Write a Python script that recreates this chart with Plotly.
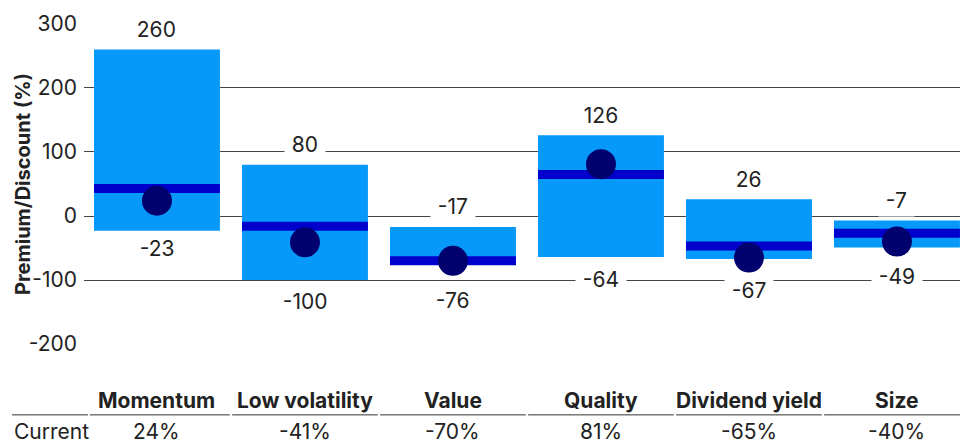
import plotly.graph_objects as go

# Factor valuation ranges: premium/discount (%) versus history
factors = ["Momentum", "Low volatility", "Value", "Quality", "Dividend yield", "Size"]
range_high = [260, 80, -17, 126, 26, -7]
range_low = [-23, -100, -76, -64, -67, -49]
median = [43, -16, -70, 65, -47, -27]
current = [24, -41, -70, 81, -65, -40]
current_labels = ["24%", "-41%", "-70%", "81%", "-65%", "-40%"]
y_ticks = [-200, -100, 0, 100, 200, 300]
y_tick_text = ["-200", "-100", "0", "100", "200", "300"]

# styling
BAR = "#0799F9"
MEDIAN = "#0000CC"
DOT = "#00006E"
TEXT = "#222222"
GRID = "#464646"
FONT = "Inter"
BAR_W = 0.851
low_label_shift = [18, 21, 36, 23, 32, 29]  # px below each bar's lower end

idx = list(range(len(factors)))

fig = go.Figure()

fig.add_trace(go.Bar(
    x=idx,
    y=[h - l for h, l in zip(range_high, range_low)],
    base=range_low,
    width=BAR_W,
    marker=dict(color=BAR, line=dict(width=0)),
    hoverinfo="skip",
))

mx, my = [], []
for i, m in zip(idx, median):
    mx += [i - BAR_W / 2, i + BAR_W / 2, None]
    my += [m, m, None]
fig.add_trace(go.Scatter(
    x=mx, y=my, mode="lines",
    line=dict(color=MEDIAN, width=9),
    hoverinfo="skip",
))

fig.add_trace(go.Scatter(
    x=idx, y=current, mode="markers",
    marker=dict(color=DOT, size=30, line=dict(width=0)),
    hoverinfo="skip",
))

annotations = []
for i, h, l, s in zip(idx, range_high, range_low, low_label_shift):
    annotations.append(dict(
        x=i, y=h, xref="x", yref="y", text=f"\u2009{h}\u2009", showarrow=False,
        yshift=20, yanchor="middle", bgcolor="white", borderpad=3,
        font=dict(family=FONT, size=21, color=TEXT),
    ))
    annotations.append(dict(
        x=i, y=l, xref="x", yref="y", text=f"\u2009{l}\u2009", showarrow=False,
        yshift=-s, yanchor="middle", bgcolor="white", borderpad=3,
        font=dict(family=FONT, size=21, color=TEXT),
    ))

# table under the chart: factor names and current readings
for i, name, cur in zip(idx, factors, current_labels):
    annotations.append(dict(
        x=i, y=-0.171, xref="x", yref="paper", text=name, showarrow=False,
        yanchor="middle", font=dict(family=FONT, size=21, color=TEXT, weight=700),
    ))
    annotations.append(dict(
        x=i, y=-0.270, xref="x", yref="paper", text=cur, showarrow=False,
        yanchor="middle", font=dict(family=FONT, size=21, color=TEXT),
    ))
annotations.append(dict(
    x=-0.0822, y=-0.270, xref="paper", yref="paper", text="Current", showarrow=False,
    xanchor="left", yanchor="middle", font=dict(family=FONT, size=21, color=TEXT),
))
annotations.append(dict(
    x=-0.0696, y=0.5, xref="paper", yref="paper", text="Premium/Discount (%)",
    showarrow=False, textangle=-90, xanchor="center", yanchor="middle",
    font=dict(family=FONT, size=20, color=TEXT, weight=700),
))

shapes = []
# header rule, split per column
col_edges = [i - 0.5 for i in idx] + [5.426]
shapes.append(dict(type="line", xref="paper", yref="paper",
                   x0=-0.0822, x1=0.0046, y0=-0.217, y1=-0.217,
                   line=dict(color="#333333", width=1)))
for k in range(len(idx)):
    x0 = col_edges[k] + 0.008 if k > 0 else -0.453
    x1 = col_edges[k + 1] - 0.008 if k < len(idx) - 1 else col_edges[k + 1]
    shapes.append(dict(type="line", xref="x", yref="paper",
                       x0=x0, x1=x1, y0=-0.217, y1=-0.217,
                       line=dict(color="#333333", width=1)))

fig.update_layout(
    width=969, height=443,
    margin=dict(l=84, r=9, t=23, b=98),
    paper_bgcolor="white", plot_bgcolor="white",
    showlegend=False,
    barmode="overlay",
    annotations=annotations,
    shapes=shapes,
    font=dict(family=FONT, color=TEXT),
)
fig.update_xaxes(range=[-0.493, 5.426], showticklabels=False, showgrid=False,
                 zeroline=False, showline=False, fixedrange=True)
fig.update_yaxes(range=[-201.5, 301.5], tickvals=y_ticks, ticktext=y_tick_text,
                 ticks="", ticklabelstandoff=6,
                 tickfont=dict(family=FONT, size=21, color=TEXT),
                 showgrid=True, gridcolor=GRID, gridwidth=1,
                 zeroline=False, showline=False, fixedrange=True)

fig.write_html("out.html")
